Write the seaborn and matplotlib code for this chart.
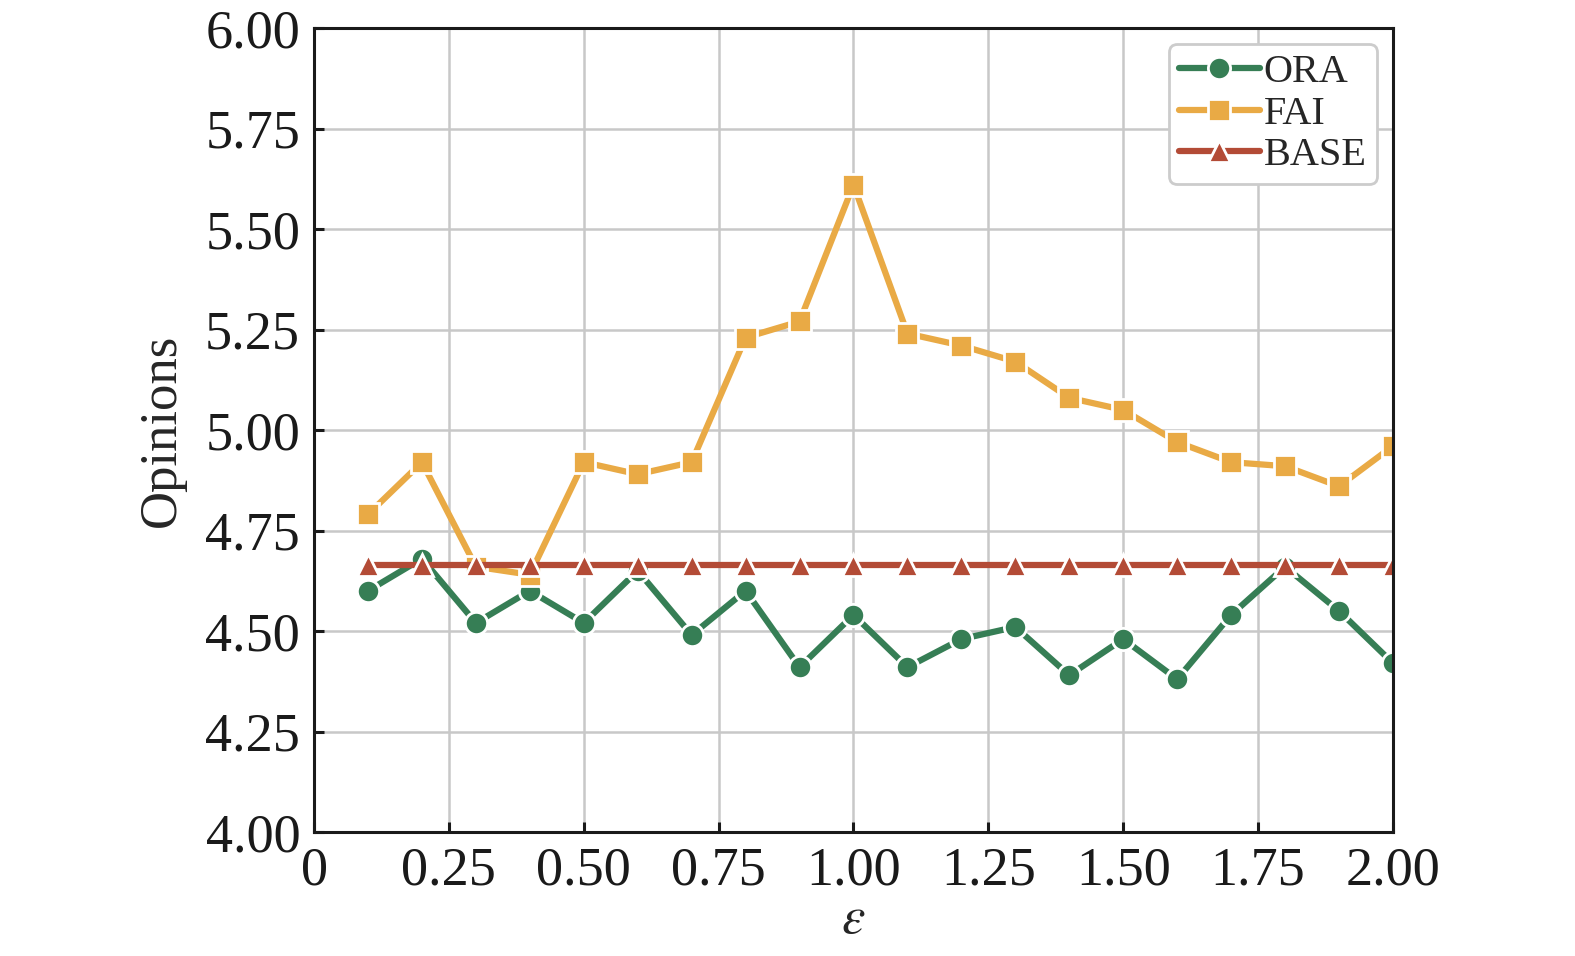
import matplotlib
matplotlib.use("Agg")
import matplotlib.pyplot as plt
import numpy as np
import pandas as pd
import seaborn as sns

# Data
eps = [0.1, 0.2, 0.3, 0.4, 0.5, 0.6, 0.7, 0.8, 0.9, 1.0,
       1.1, 1.2, 1.3, 1.4, 1.5, 1.6, 1.7, 1.8, 1.9, 2.0]
ora = [4.60, 4.68, 4.52, 4.60, 4.52, 4.65, 4.49, 4.60, 4.41, 4.54,
       4.41, 4.48, 4.51, 4.39, 4.48, 4.38, 4.54, 4.66, 4.55, 4.42]
fai = [4.79, 4.92, 4.66, 4.64, 4.92, 4.89, 4.92, 5.23, 5.27, 5.61,
       5.24, 5.21, 5.17, 5.08, 5.05, 4.97, 4.92, 4.91, 4.86, 4.96]
base = [4.665] * 20

methods = ["ORA", "FAI", "BASE"]
colors = {"ORA": "#367e55", "FAI": "#e9aa45", "BASE": "#b34b36"}
markers = {"ORA": "o", "FAI": "s", "BASE": "^"}

df = pd.DataFrame({
    "eps": eps * 3,
    "value": ora + fai + base,
    "method": ["ORA"] * 20 + ["FAI"] * 20 + ["BASE"] * 20,
})

sns.set_style("ticks")
plt.rcParams["font.family"] = ["Liberation Serif", "DejaVu Serif"]
plt.rcParams["mathtext.fontset"] = "stix"

fig = plt.figure(figsize=(15.75, 9.56), dpi=100)
ax = fig.add_axes([0.1994, 0.1297, 0.8844 - 0.1994, 0.9707 - 0.1297])

sns.lineplot(
    data=df, x="eps", y="value", hue="method", style="method",
    hue_order=methods, style_order=methods, palette=colors,
    markers=markers, dashes=False, linewidth=4.5, markersize=16,
    markeredgecolor="white", markeredgewidth=2.0, ax=ax,
)

ax.set_xlim(0, 2.0)
ax.set_ylim(4.0, 6.0)
xt = np.arange(0, 2.01, 0.25)
ax.set_xticks(xt)
ax.set_xticklabels(["0"] + [f"{v:.2f}" for v in xt[1:]])
yt = np.arange(4.0, 6.01, 0.25)
ax.set_yticks(yt)
ax.set_yticklabels([f"{v:.2f}" for v in yt])

ax.grid(True, color="#c8c8c8", linewidth=1.8)
ax.set_axisbelow(True)
for s in ax.spines.values():
    s.set_linewidth(2.2)
    s.set_color("#1a1a1a")
ax.tick_params(direction="in", length=7, width=2.2, labelsize=39,
               colors="#1a1a1a", pad=10)

ax.set_xlabel(r"$\varepsilon$", fontsize=38, labelpad=0)
ax.set_ylabel("Opinions", fontsize=38, labelpad=14)

leg = ax.legend(loc="upper right", fontsize=29, frameon=True, fancybox=True,
                edgecolor="#cccccc", framealpha=1, handlelength=2.0,
                handletextpad=0.1, borderpad=0.25, labelspacing=0.1,
                borderaxespad=0.4)
leg.get_frame().set_linewidth(2)

fig.savefig("out.png", dpi=100)
